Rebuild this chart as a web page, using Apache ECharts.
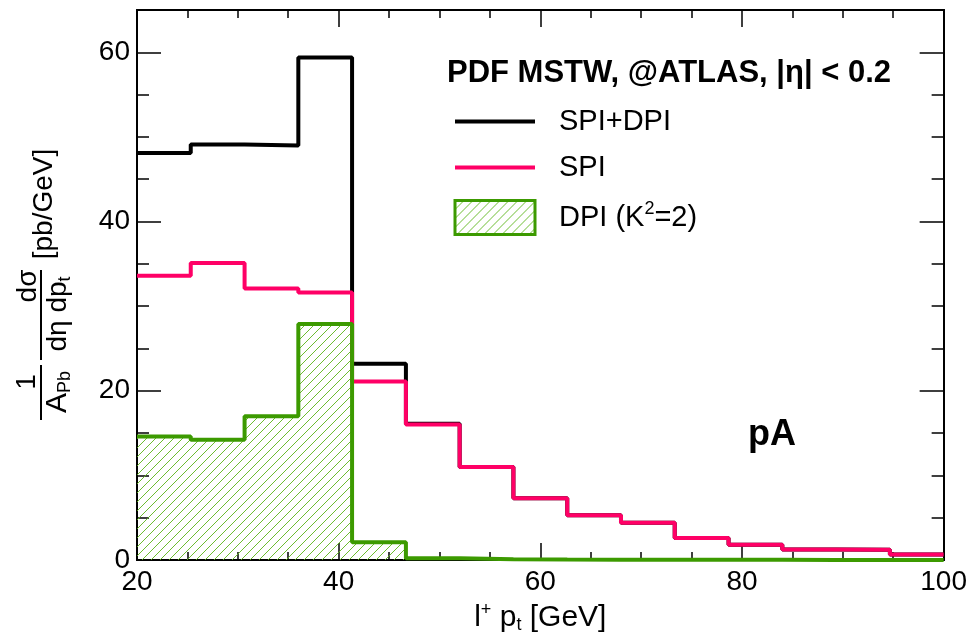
<!DOCTYPE html>
<html>
<head>
<meta charset="utf-8">
<title>pA l+ pt</title>
<script src="https://cdn.jsdelivr.net/npm/echarts@6/dist/echarts.min.js"></script>
</head>
<body style="margin:0;background:#fff">
<div id="main" style="width:970px;height:642px;"></div>
<script type="text/javascript">
// bin edges in GeV and bin contents
var binEdges = [20, 25.33, 30.67, 36, 41.33, 46.67, 52, 57.33, 62.67, 68, 73.33, 78.67, 84, 89.33, 94.67, 100];
var spiDpi = [48.1, 49.1, 49.0, 59.4, 23.2, 16.1, 11.0, 7.3, 5.3, 4.4, 2.6, 1.8, 1.25, 1.2, 0.65];
var spi    = [33.6, 35.1, 32.1, 31.6, 21.1, 16.0, 11.0, 7.3, 5.3, 4.4, 2.6, 1.8, 1.25, 1.2, 0.65];
var dpi    = [14.6, 14.2, 17.0, 27.9, 2.1, 0.2, 0.1, 0.05, 0.04, 0.03, 0.02, 0.02, 0.01, 0.01, 0.01];
var xTicks = [20, 40, 60, 80, 100];
var yTicks = [0, 20, 40, 60];

var FONT = 'Liberation Sans, Arial, Helvetica, sans-serif';
var GREEN = '#3c9a00';
var PINK = '#ff0066';

// step histogram points: left edge of every bin + closing right edge
function steps(vals) {
    return binEdges.map(function (e, i) {
        return [e, vals[Math.min(i, vals.length - 1)]];
    });
}

function hatch() {
    var c = document.createElement('canvas');
    c.width = 9; c.height = 9;
    var g = c.getContext('2d');
    g.strokeStyle = '#5cb418';
    g.lineWidth = 0.9;
    g.beginPath();
    g.moveTo(-1, 10); g.lineTo(10, -1);
    g.moveTo(-1, 1); g.lineTo(1, -1);
    g.moveTo(8, 10); g.lineTo(10, 8);
    g.stroke();
    return c;
}
var hatchFill = { image: hatch(), repeat: 'repeat' };

var rich = {
    sup: { fontSize: 18, fontFamily: FONT, color: '#000', padding: [0, 0, 16, 0] },
    sub: { fontSize: 18, fontFamily: FONT, color: '#000', padding: [14, 0, 0, 0] }
};

function xAx(pos) {
    return {
        type: 'value', min: 20, max: 100, interval: 20, position: pos,
        axisLine: { show: true, onZero: false, lineStyle: { color: '#000', width: 2 } },
        axisTick: { show: true, inside: true, length: 17, lineStyle: { color: '#000', width: 1.5 } },
        minorTick: { show: true, splitNumber: 4, length: 8, lineStyle: { color: '#000', width: 1.5 } },
        splitLine: { show: false },
        axisLabel: {
            show: pos === 'bottom', fontSize: 28, fontFamily: FONT, color: '#000', margin: 8,
            formatter: function (v) { return xTicks.indexOf(v) >= 0 ? v : ''; }
        }
    };
}

function yAx(pos, interval, len, labels) {
    return {
        type: 'value', min: 0, max: 65, interval: interval, position: pos,
        axisLine: { show: true, onZero: false, lineStyle: { color: '#000', width: 2 } },
        axisTick: { show: true, inside: true, length: len, lineStyle: { color: '#000', width: 1.5 } },
        splitLine: { show: false },
        axisLabel: {
            show: labels, fontSize: 28, fontFamily: FONT, color: '#000', margin: 7,
            showMaxLabel: false,
            formatter: function (v) { return yTicks.indexOf(v) >= 0 ? v : ''; }
        }
    };
}

var bottomX = xAx('bottom');
bottomX.name = 'l{sup|+} p{sub|t} [GeV]';
bottomX.nameLocation = 'middle';
bottomX.nameGap = 31;
bottomX.nameTextStyle = { fontSize: 30, fontFamily: FONT, color: '#000', rich: rich };

var rot = Math.PI / 2;
function vtext(txt, x, y, size) {
    return {
        type: 'text', x: x, y: y, rotation: rot,
        style: {
            text: txt, fontSize: size || 28, fontFamily: FONT, fill: '#000',
            align: 'center', verticalAlign: 'middle', rich: rich
        }
    };
}

var myChart = echarts.init(document.getElementById('main'), null, { renderer: 'canvas' });
var option = {
    animation: false,
    backgroundColor: '#fff',
    title: {
        text: 'PDF MSTW, @ATLAS, |η| < 0.2',
        left: 447, top: 58, padding: 0,
        textStyle: { fontSize: 31, fontWeight: 'bold', fontFamily: FONT, color: '#000' }
    },
    legend: {
        orient: 'vertical', left: 453, top: 107, padding: 0,
        itemWidth: 80, itemHeight: 34, itemGap: 17,
        textStyle: { fontSize: 29, fontFamily: FONT, color: '#000', padding: [0, 0, 0, 19], rich: rich },
        formatter: function (n) { return n === 'DPI' ? 'DPI (K{sup|2}=2)' : n; },
        data: [
            { name: 'SPI+DPI', itemStyle: { opacity: 0 }, lineStyle: { width: 4 } },
            { name: 'SPI', itemStyle: { opacity: 0 }, lineStyle: { width: 4 } },
            { name: 'DPI', icon: 'rect', itemStyle: { color: hatchFill, borderColor: GREEN, borderWidth: 3 } }
        ]
    },
    grid: { left: 137, top: 10, right: 23, bottom: 82 },
    xAxis: [bottomX, xAx('top')],
    yAxis: [
        yAx('left', 5, 12, true),
        yAx('left', 20, 24, false),
        yAx('right', 5, 12, false),
        yAx('right', 20, 24, false)
    ],
    series: [
        {
            name: 'SPI+DPI', type: 'line', step: 'end', symbol: 'none', z: 2,
            data: steps(spiDpi),
            lineStyle: { color: '#000', width: 4 }, itemStyle: { color: '#000' }
        },
        {
            name: 'SPI', type: 'line', step: 'end', symbol: 'none', z: 3,
            data: steps(spi),
            lineStyle: { color: PINK, width: 4 }, itemStyle: { color: PINK }
        },
        {
            name: 'DPI', type: 'line', step: 'end', symbol: 'none', z: 4,
            data: steps(dpi),
            lineStyle: { color: GREEN, width: 4 }, itemStyle: { color: GREEN },
            areaStyle: { color: hatchFill, opacity: 1 }
        }
    ],
    graphic: [
        vtext('1', 27, 382),
        { type: 'line', shape: { x1: 41, y1: 365, x2: 41, y2: 420 }, style: { stroke: '#000', lineWidth: 2 } },
        vtext('A{sub|Pb}', 58, 392, 30),
        vtext('dσ', 28, 286),
        { type: 'line', shape: { x1: 41, y1: 270, x2: 41, y2: 360 }, style: { stroke: '#000', lineWidth: 2 } },
        vtext('dη dp{sub|t}', 58, 314),
        vtext('[pb/GeV]', 44, 204),
        {
            type: 'text', x: 772, y: 435,
            style: { text: 'pA', fontSize: 36, fontWeight: 'bold', fontFamily: FONT, fill: '#000', align: 'center', verticalAlign: 'middle' }
        }
    ]
};
myChart.setOption(option);
</script>
</body>
</html>
